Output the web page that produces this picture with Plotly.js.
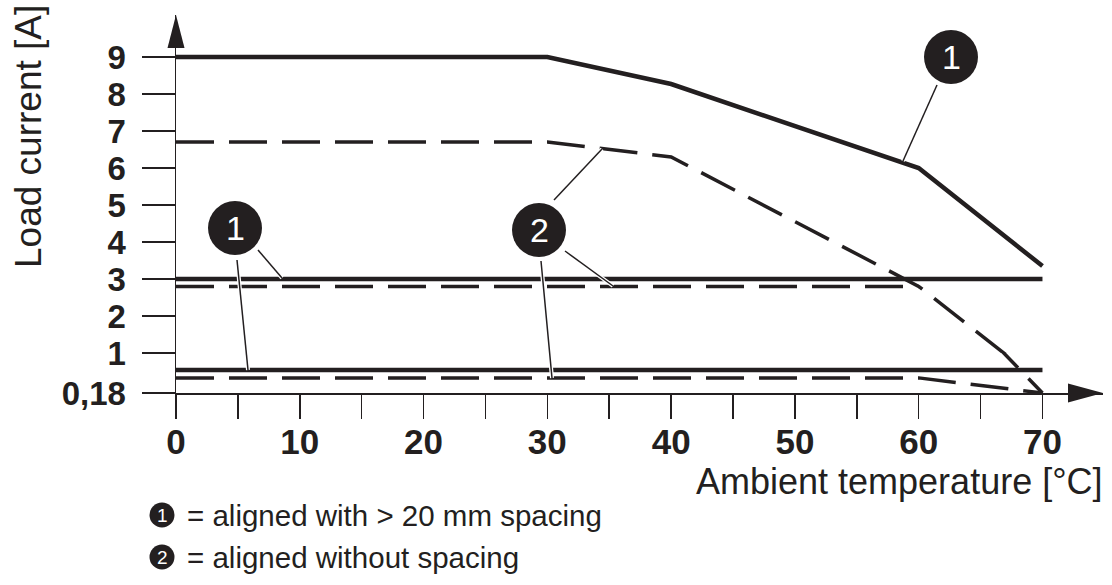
<!DOCTYPE html>
<html>
<head>
<meta charset="utf-8">
<script src="https://cdn.plot.ly/plotly-3.0.1.min.js"></script>
<style>html,body{margin:0;padding:0;background:#fff;}#chart{width:1112px;height:585px;}</style>
</head>
<body>
<div id="chart"></div>
<script>
// ---- data ----
const temps1 = [0, 30, 40, 60, 70];           // curve 1 (aligned with > 20 mm spacing), upper
const current1 = [9, 9, 8.27, 6.0, 3.35];
const temps2 = [0, 30, 40, 60, 70];           // curve 2 (aligned without spacing), upper
const current2 = [6.7, 6.7, 6.3, 2.8, 0.18];
const midTemps1 = [0, 70];                    // curve 1, middle
const midCurrent1 = [3, 3];
const midTemps2 = [0, 60];                    // curve 2, middle
const midCurrent2 = [2.8, 2.8];
const lowTemps1 = [0, 70];                    // curve 1, lower
const lowCurrent1 = [0.65, 0.65];
const lowTemps2 = [0, 60, 70];                // curve 2, lower
const lowCurrent2 = [0.49, 0.49, 0.18];

const xTickVals = [0, 5, 10, 15, 20, 25, 30, 35, 40, 45, 50, 55, 60, 65, 70];
const xTickText = ['0', '', '10', '', '20', '', '30', '', '40', '', '50', '', '60', '', '70'];
// the y axis is broken: 0,18 ... 1 is stretched, 1 ... 9 is linear
const yTickValsUpper = [1, 2, 3, 4, 5, 6, 7, 8, 9];
const yTickTextUpper = ['1', '2', '3', '4', '5', '6', '7', '8', '9'];
const yTickValsLower = [0.18];
const yTickTextLower = ['0,18'];

const legendTexts = ['= aligned with > 20 mm spacing', '= aligned without spacing'];
const xTitle = 'Ambient temperature [°C]';
const yTitle = 'Load current [A]';

// ---- styling ----
const INK = '#231f20';
const FONT = 'Liberation Sans, Arial, Helvetica, sans-serif';
const solid = {color: INK, width: 4.5, dash: 'solid'};
const dashed = {color: INK, width: 3.5, dash: '38px,15px'};

// plot area geometry (pixels): left 176, right 1103, top 15, bottom 393
const PL = 176, PW = 927, PB = 393, PH = 378;
const px = v => (v - PL) / PW;
const py = v => (PB - v) / PH;
const LOWER_TOP = 40 / PH;   // lower segment (0,18 .. 1) is 40 px tall

function tr(x, y, line, yaxis) {
  return {x: x, y: y, yaxis: yaxis, type: 'scatter', mode: 'lines', line: line, hoverinfo: 'skip', showlegend: false};
}
const data = [
  tr(temps1, current1, solid, 'y'),
  tr(temps2, current2, dashed, 'y'),
  tr(midTemps1, midCurrent1, solid, 'y'),
  tr(midTemps2, midCurrent2, dashed, 'y'),
  tr(temps2, current2, dashed, 'y2'),
  tr(lowTemps1, lowCurrent1, solid, 'y2'),
  tr(lowTemps2, lowCurrent2, dashed, 'y2')
];

function bubble(cx, cy, r) {
  return {type: 'circle', xref: 'paper', yref: 'paper', xsizemode: 'pixel', ysizemode: 'pixel',
    xanchor: px(cx), yanchor: py(cy), x0: -r, x1: r, y0: -r, y1: r, fillcolor: INK, line: {width: 0}, layer: 'above'};
}
function leader(x0, y0, x1, y1) {
  const base = {type: 'line', xref: 'paper', yref: 'paper', x0: px(x0), y0: py(y0), x1: px(x1), y1: py(y1), layer: 'above'};
  return [
    Object.assign({}, base, {line: {color: '#ffffff', width: 4}}),
    Object.assign({}, base, {line: {color: INK, width: 1.5}})
  ];
}
const shapes = [].concat(
  leader(937, 85, 903, 161),
  leader(258, 250, 282, 278),
  leader(237, 260, 248, 370),
  leader(554, 200, 602, 149),
  leader(565, 251, 613, 286),
  leader(541, 261, 552, 378),
  [
    bubble(951, 57, 27),
    bubble(235, 228, 27),
    bubble(539, 230, 27),
    bubble(162, 515, 12.5),
    bubble(162, 557, 12.5),
    // axis arrows
    {type: 'path', xref: 'paper', yref: 'paper', xsizemode: 'pixel', ysizemode: 'pixel',
      xanchor: 0, yanchor: 1, path: 'M -8.5,-33 L 0,0 L 8.5,-33 Z', fillcolor: INK, line: {width: 0}, layer: 'above'},
    {type: 'path', xref: 'paper', yref: 'paper', xsizemode: 'pixel', ysizemode: 'pixel',
      xanchor: 1, yanchor: 0, path: 'M -35,9.5 L 0,0 L -35,-9.5 Z', fillcolor: INK, line: {width: 0}, layer: 'above'}
  ]
);

function label(cx, cy, t, size, color, xanchor, extra) {
  return Object.assign({x: px(cx), y: py(cy), xref: 'paper', yref: 'paper', text: t, showarrow: false,
    xanchor: xanchor || 'center', yanchor: 'middle', font: {family: FONT, size: size, color: color}}, extra || {});
}
const annotations = [
  label(951, 57, '1', 34, '#ffffff'),
  label(235, 228, '1', 34, '#ffffff'),
  label(539, 230, '2', 34, '#ffffff'),
  label(162, 515, '1', 19, '#ffffff'),
  label(162, 557, '2', 19, '#ffffff'),
  label(185, 515, legendTexts[0], 29.5, INK, 'left'),
  label(185, 557, legendTexts[1], 29.5, INK, 'left'),
  label(1105, 481, xTitle, 36, INK, 'right'),
  label(28, 137, yTitle, 37, INK, 'center', {textangle: -90})
];

const yCommon = {
  showgrid: false, zeroline: false, showline: true, linecolor: INK, linewidth: 1.5,
  tickmode: 'array', ticks: 'outside', ticklen: 33, tickwidth: 1.5, tickcolor: INK, ticklabelstandoff: 9,
  tickfont: {family: FONT, size: 33, color: INK, weight: 'bold'}, fixedrange: true, anchor: 'x'
};

const layout = {
  width: 1112, height: 585,
  margin: {l: 176, r: 9, t: 15, b: 192, pad: 0},
  paper_bgcolor: '#ffffff', plot_bgcolor: '#ffffff',
  showlegend: false,
  xaxis: {
    range: [0, 74.89], anchor: 'y2', showgrid: false, zeroline: false, showline: true, linecolor: INK, linewidth: 1.5,
    tickmode: 'array', tickvals: xTickVals, ticktext: xTickText, ticks: 'outside', ticklen: 24,
    tickwidth: 1.5, tickcolor: INK, ticklabelstandoff: -7,
    tickfont: {family: FONT, size: 35, color: INK, weight: 'bold'}, fixedrange: true
  },
  yaxis: Object.assign({}, yCommon, {
    domain: [LOWER_TOP, 1], range: [1, 10.135], tickvals: yTickValsUpper, ticktext: yTickTextUpper
  }),
  yaxis2: Object.assign({}, yCommon, {
    domain: [0, LOWER_TOP], range: [0.18, 1], tickvals: yTickValsLower, ticktext: yTickTextLower
  }),
  shapes: shapes,
  annotations: annotations
};

Plotly.newPlot('chart', data, layout, {displayModeBar: false, staticPlot: true});
</script>
</body>
</html>
